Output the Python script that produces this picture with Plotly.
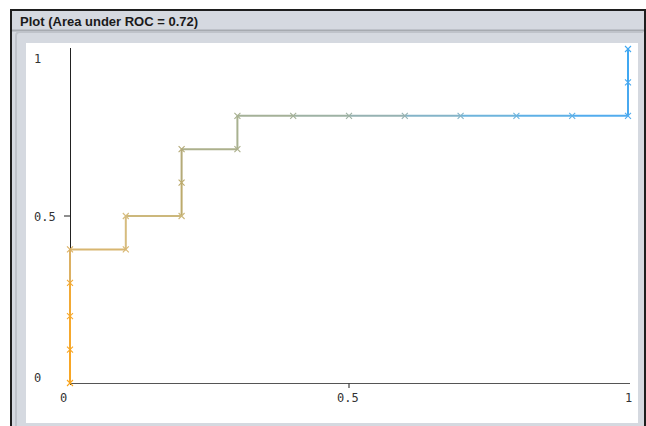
import plotly.graph_objects as go

# ROC points (false positive rate, true positive rate)
fpr = [0, 0, 0, 0, 0, 0.1, 0.1, 0.2, 0.2, 0.2, 0.3, 0.3, 0.4, 0.5, 0.6, 0.7, 0.8, 0.9, 1, 1, 1]
tpr = [0, 0.1, 0.2, 0.3, 0.4, 0.4, 0.5, 0.5, 0.6, 0.7, 0.7, 0.8, 0.8, 0.8, 0.8, 0.8, 0.8, 0.8, 0.8, 0.9, 1]
point_colors = ["#f9a51c", "#f8a624", "#f6a82c", "#f2a934", "#dcb062",
                "#d8b670", "#d6bc7e", "#ccb87c", "#bcaa6c", "#b4aa78",
                "#acb08c", "#a8b190", "#a4b198", "#9eb2a4", "#96b2b2",
                "#84b4c8", "#6eb4dc", "#5eb0e6", "#52acee", "#48a9f0", "#40a8f2"]

title_text = "Plot (Area under ROC = 0.72)"
x_tick_labels = ["0", "0.5", "1"]
y_tick_labels = ["0", "0.5", "1"]
tick_values = [0, 0.5, 1]
mid_tick = 0.5

W, H = 646, 426
X0, X1 = 70, 628   # pixel positions of x = 0 and x = 1
Y0, Y1 = 383, 49   # pixel positions of y = 0 and y = 1
PAD = 1.5          # small pixel padding so edge lines are not clipped


def px(x):
    return x / W


def py(y):
    return 1 - y / H


fig = go.Figure()

# segments, each drawn in the colour of its end point
for i in range(1, len(fpr)):
    fig.add_trace(go.Scatter(
        x=[fpr[i - 1], fpr[i]], y=[tpr[i - 1], tpr[i]],
        mode="lines", line=dict(color=point_colors[i], width=2),
        hoverinfo="skip", showlegend=False, cliponaxis=False))

fig.add_trace(go.Scatter(
    x=fpr, y=tpr, mode="markers",
    marker=dict(symbol="x-thin", size=6, color=point_colors,
                line=dict(width=1.1, color=point_colors)),
    showlegend=False, cliponaxis=False))

# pixel positions of the mid ticks (axis decoration)
tick_px_x = X0 + mid_tick * (X1 - X0)
tick_px_y = Y0 - mid_tick * (Y0 - Y1)

P = dict(xref="paper", yref="paper", layer="below")
shapes = [
    # outer window frame
    dict(type="rect", x0=px(11), x1=px(645), y0=py(10), y1=py(432),
         fillcolor="#d5d9e0", line=dict(color="#1e1e1e", width=2), **P),
    # darker band under title bar
    dict(type="rect", x0=px(12), x1=px(644), y0=py(29.5), y1=py(31.5),
         fillcolor="#a6aab0", line=dict(width=0), **P),
    # inner rounded border (shadow line)
    dict(type="path",
         path=f"M {px(16)},{py(440)} L {px(16)},{py(36)} Q {px(16)},{py(32)} {px(20)},{py(32)} "
              f"L {px(643)},{py(32)}",
         line=dict(color="#bfc3ca", width=2), **P),
    # white plotting panel
    dict(type="rect", x0=px(26), x1=px(638), y0=py(43), y1=py(423),
         fillcolor="white", line=dict(width=0), **P),
    # tick marks at 0.5
    dict(type="line", xref="paper", yref="paper", x0=px(X0 - 6), x1=px(X0),
         y0=py(tick_px_y), y1=py(tick_px_y), line=dict(color="#444444", width=1.2)),
    dict(type="line", xref="paper", yref="paper", x0=px(tick_px_x), x1=px(tick_px_x),
         y0=py(Y0), y1=py(Y0 + 5), line=dict(color="#444444", width=1.2)),
]

annotations = [
    dict(text=f"<b>{title_text}</b>", x=px(18), y=py(21), xref="paper", yref="paper",
         xanchor="left", yanchor="middle", showarrow=False,
         font=dict(family="Liberation Sans, Arial", size=13, color="#1a1a1a")),
]

mono = dict(family="DejaVu Sans Mono, monospace", size=12, color="#333333")
# x tick labels
for v, lab, xc in zip(tick_values, x_tick_labels, [63, 348, 628]):
    annotations.append(dict(text=lab, x=px(xc), y=py(398), xref="paper", yref="paper",
                            xanchor="center", yanchor="middle", showarrow=False, font=mono))
# y tick labels
for v, lab, yc in zip(tick_values, y_tick_labels, [378, 217, 59]):
    annotations.append(dict(text=lab, x=px(32), y=py(yc), xref="paper", yref="paper",
                            xanchor="left", yanchor="middle", showarrow=False, font=mono))

xpad = PAD / (X1 - X0)
ypad = PAD / (Y0 - Y1)

fig.update_layout(
    width=W, height=H,
    margin=dict(l=0, r=0, t=0, b=0),
    paper_bgcolor="white", plot_bgcolor="rgba(0,0,0,0)",
    shapes=shapes, annotations=annotations,
    xaxis=dict(domain=[px(X0 - PAD), px(X1 + PAD)], range=[-xpad, 1 + xpad],
               showgrid=False, showline=False,
               zeroline=True, zerolinecolor="#222222", zerolinewidth=1,
               showticklabels=False, ticks="", fixedrange=True),
    yaxis=dict(domain=[py(Y0 + PAD), py(Y1 - PAD)], range=[-ypad, 1 + ypad],
               showgrid=False, showline=False,
               zeroline=True, zerolinecolor="#555555", zerolinewidth=1,
               showticklabels=False, ticks="", fixedrange=True),
)

fig.write_html("out.html", config={"displayModeBar": False},
               post_script="document.body.style.margin='0px';document.body.style.overflow='hidden';")
